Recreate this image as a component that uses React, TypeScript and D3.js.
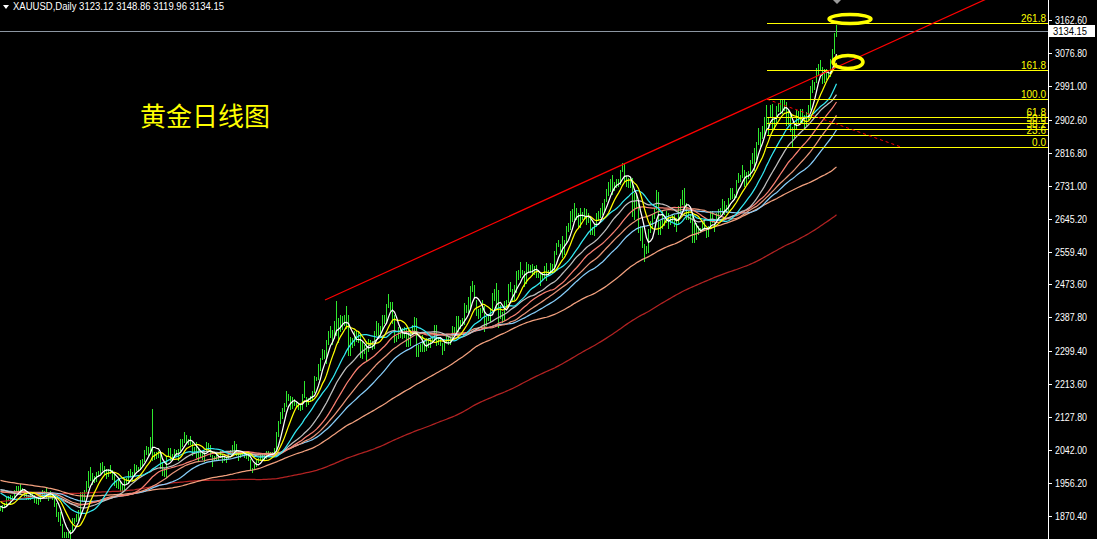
import React from "react";
import * as d3 from "d3";

const W = 1097;
const H = 539;
const PLOT_RIGHT = 1048;

const symbolTitle = "XAUUSD,Daily";
const lastOHLC = [3123.12, 3148.86, 3119.96, 3134.15];
const chartTitle = "黄金日线图";

// Daily lows (Aug 18 2023 -> Apr 1 2025)
const lows = [
  1885,
  1884, 1893, 1896, 1911, 1905,
  1914, 1918, 1935, 1934, 1931,
  1935, 1923, 1915, 1914, 1915,
  1916, 1908, 1905, 1901, 1910,
  1922, 1926, 1917, 1913, 1919,
  1914, 1897, 1870, 1857, 1846,
  1815, 1815, 1816, 1815, 1810,
  1832, 1853, 1858, 1859, 1867,
  1909, 1911, 1935, 1947, 1965,
  1953, 1960, 1962, 1976, 1982,
  1990, 1980, 1970, 1975, 1982,
  1967, 1952, 1946, 1944, 1935,
  1932, 1940, 1955, 1956, 1975,
  1965, 1976, 1989, 1988, 1992,
  2000, 2014, 2031, 2030, 2035,
  2017, 2018, 2021, 2024, 1995,
  1976, 1975, 1973, 2026, 2017,
  2016, 2024, 2028, 2017, 2043,
  2052, 2063, 2063, 2058,
  2057, 2030, 2035, 2024,
  2017, 2027, 2018, 2013, 2040,
  2046, 2028, 2001, 2016, 2020,
  2016, 2024, 2011, 2015, 2012,
  2022, 2031, 2029, 2037, 2030,
  2015, 2025, 2030, 2025, 2021,
  2016, 1990, 1984, 1993, 2000,
  2012, 2016, 2020, 2019, 2022,
  2027, 2026, 2025, 2034, 2040,
  2080, 2113, 2125, 2145, 2157,
  2172, 2150, 2152, 2159, 2155,
  2150, 2147, 2150, 2180, 2158,
  2163, 2171, 2175, 2193, 2225,
  2228, 2250, 2280, 2282, 2268,
  2318, 2336, 2319, 2333, 2343,
  2324, 2353, 2357, 2369, 2359,
  2291, 2291, 2311, 2316, 2326,
  2324, 2285, 2281, 2295, 2277,
  2301, 2310, 2305, 2309, 2341,
  2335, 2338, 2355, 2373, 2377,
  2415, 2408, 2374, 2325, 2326,
  2335, 2338, 2333, 2337, 2314,
  2314, 2316, 2349, 2351, 2287,
  2288, 2301, 2299, 2299, 2302,
  2310, 2311, 2328, 2328, 2316,
  2318, 2316, 2293, 2304, 2323,
  2318, 2319, 2330, 2350, 2353,
  2352, 2359, 2369, 2370, 2403,
  2400, 2410, 2456, 2438, 2393,
  2385, 2390, 2402, 2353, 2367,
  2380, 2379, 2404, 2432, 2410,
  2364, 2385, 2376, 2382, 2418,
  2428, 2457, 2433, 2436, 2454,
  2489, 2492, 2501, 2470, 2477,
  2507, 2505, 2497, 2500, 2493,
  2493, 2471, 2486, 2492, 2485,
  2498, 2503, 2505, 2509, 2554,
  2573, 2562, 2546, 2553, 2585,
  2613, 2617, 2640, 2644, 2643,
  2624, 2624, 2643, 2643, 2632,
  2636, 2604, 2605, 2603, 2627,
  2641, 2649, 2656, 2666, 2691,
  2707, 2718, 2708, 2719, 2728,
  2730, 2736, 2770, 2742, 2731,
  2728, 2727, 2652, 2643, 2674,
  2610, 2589, 2572, 2536, 2555,
  2558, 2609, 2620, 2646, 2669,
  2605, 2605, 2620, 2629, 2637,
  2622, 2631, 2640, 2625, 2613,
  2631, 2665, 2683, 2680, 2645,
  2644, 2637, 2583, 2584, 2592,
  2605, 2609, 2618, 2617,
  2597, 2599, 2624, 2636,
  2614, 2636, 2643, 2658, 2663,
  2656, 2662, 2667, 2695, 2700,
  2696, 2702, 2741, 2743, 2754,
  2730, 2735, 2750, 2756, 2790,
  2772, 2800, 2840, 2835, 2855,
  2861, 2880, 2864, 2913, 2876,
  2881, 2896, 2925, 2920, 2920,
  2928, 2890, 2892, 2873, 2833,
  2857, 2880, 2894, 2896, 2896,
  2880, 2890, 2904, 2930, 2976,
  2982, 3000, 3022, 3032, 2999,
  3000, 3010, 3012, 3017, 3058,
  3077, 3119.96,
];

// Daily highs
const highs = [
  1896,
  1899, 1903, 1920, 1923, 1925,
  1922, 1938, 1949, 1948, 1953,
  1943, 1940, 1930, 1925, 1930,
  1931, 1925, 1917, 1916, 1928,
  1937, 1936, 1947, 1931, 1935,
  1926, 1917, 1905, 1880, 1880,
  1850, 1830, 1830, 1830, 1835,
  1864, 1865, 1875, 1885, 1932,
  1932, 1937, 1962, 1987, 1997,
  1982, 1975, 1984, 1988, 2009,
  2010, 2000, 1993, 1992, 2003,
  1990, 1980, 1962, 1966, 1962,
  1950, 1970, 1970, 1988, 1994,
  1984, 2007, 2003, 1997, 2017,
  2018, 2042, 2052, 2050, 2075,
  2148, 2038, 2037, 2040, 2035,
  2008, 1995, 2028, 2048, 2048,
  2033, 2045, 2043, 2046, 2070,
  2070, 2088, 2082, 2070,
  2078, 2065, 2050, 2064,
  2047, 2038, 2038, 2040, 2062,
  2060, 2056, 2030, 2026, 2035,
  2030, 2040, 2032, 2025, 2025,
  2035, 2043, 2055, 2065, 2058,
  2040, 2037, 2039, 2040, 2034,
  2030, 2020, 1996, 2005, 2016,
  2022, 2031, 2034, 2035, 2041,
  2039, 2038, 2036, 2048, 2088,
  2119, 2141, 2153, 2165, 2195,
  2189, 2184, 2180, 2175, 2167,
  2164, 2162, 2189, 2222, 2180,
  2178, 2184, 2196, 2236, 2233,
  2266, 2281, 2305, 2304, 2330,
  2353, 2365, 2355, 2378, 2431,
  2385, 2395, 2392, 2394, 2417,
  2395, 2338, 2335, 2352, 2353,
  2352, 2345, 2326, 2317, 2326,
  2332, 2330, 2326, 2353, 2378,
  2372, 2366, 2395, 2395, 2422,
  2450, 2428, 2427, 2393, 2340,
  2364, 2364, 2360, 2364, 2360,
  2355, 2354, 2369, 2388, 2387,
  2315, 2319, 2342, 2330, 2335,
  2334, 2332, 2340, 2368, 2368,
  2336, 2334, 2321, 2331, 2339,
  2338, 2336, 2365, 2363, 2392,
  2392, 2381, 2386, 2425, 2420,
  2440, 2469, 2483, 2473, 2434,
  2409, 2412, 2432, 2418, 2390,
  2393, 2411, 2451, 2462, 2477,
  2460, 2421, 2402, 2431, 2434,
  2475, 2480, 2463, 2471, 2509,
  2510, 2531, 2510, 2509, 2531,
  2526, 2525, 2526, 2523, 2525,
  2504, 2501, 2504, 2523, 2529,
  2510, 2529, 2527, 2560, 2581,
  2590, 2580, 2600, 2590, 2625,
  2634, 2664, 2670, 2685, 2674,
  2661, 2673, 2663, 2672, 2670,
  2660, 2645, 2624, 2631, 2661,
  2666, 2673, 2686, 2696, 2722,
  2740, 2749, 2758, 2741, 2749,
  2748, 2772, 2790, 2787, 2757,
  2752, 2750, 2750, 2711, 2710,
  2685, 2627, 2626, 2580, 2573,
  2617, 2639, 2655, 2674, 2721,
  2715, 2640, 2664, 2644, 2665,
  2659, 2650, 2658, 2654, 2646,
  2677, 2695, 2721, 2726, 2686,
  2665, 2657, 2652, 2633, 2633,
  2625, 2621, 2638, 2643,
  2620, 2626, 2664, 2665,
  2642, 2660, 2670, 2672, 2697,
  2690, 2680, 2698, 2725, 2725,
  2710, 2746, 2763, 2760, 2786,
  2773, 2766, 2768, 2798, 2817,
  2830, 2845, 2882, 2870, 2886,
  2911, 2942, 2907, 2940, 2943,
  2907, 2938, 2947, 2955, 2954,
  2956, 2950, 2925, 2917, 2884,
  2895, 2928, 2926, 2930, 2930,
  2915, 2922, 2940, 2990, 3005,
  3002, 3038, 3048, 3058, 3040,
  3035, 3036, 3030, 3060, 3087,
  3128, 3148.86,
];

// Closes before the visible window (needed for the moving averages)
const priorClose = [
  1630, 1680, 1675, 1712, 1706, 1755, 1770, 1772, 1778, 1774, 1761, 1751, 1738, 1740, 1750, 1755, 1754, 1741, 1750, 1768,
  1803, 1797, 1768, 1770, 1787, 1789, 1797, 1781, 1810, 1807, 1777, 1793, 1788, 1817, 1813, 1792, 1798, 1814, 1804, 1815, 1824,
  1828, 1840, 1855, 1833, 1866, 1872, 1877, 1876, 1897, 1920, 1916, 1908, 1905, 1932, 1926, 1931, 1937, 1946, 1929, 1928, 1923, 1928,
  1950, 1912, 1865, 1868, 1873, 1875, 1861, 1865, 1853, 1855, 1835, 1836, 1842, 1841, 1835, 1825, 1822, 1810, 1817, 1827,
  1836, 1836, 1855, 1847, 1813, 1815, 1831, 1867, 1913, 1903, 1918, 1920, 1988, 1980, 1940, 1970, 1993, 1977, 1956, 1973, 1964, 1980, 1969,
  1984, 2020, 2021, 2008, 2007, 1990, 2003, 2015, 2040, 2004, 1995, 2005, 1994, 2005, 1983, 1989, 1998, 1996, 1989, 1990,
  1983, 2016, 2039, 2050, 2017, 2021, 2034, 2030, 2015, 2011, 2017, 1989, 1981, 1957, 1978, 1971, 1975, 1957, 1942, 1946, 1943, 1959, 1962,
  1978, 1948, 1961, 1963, 1940, 1965, 1961, 1957, 1943, 1943, 1958, 1958, 1951, 1936, 1932, 1913, 1921, 1923, 1913, 1907, 1908, 1919,
  1921, 1926, 1915, 1911, 1925, 1925, 1932, 1957, 1961, 1955, 1955, 1979, 1977, 1969, 1962, 1955, 1965, 1972, 1946, 1959, 1965,
  1944, 1935, 1934, 1943, 1937, 1925, 1915, 1913, 1914, 1907, 1902, 1892, 1889,
];

const maPeriods = [5, 10, 20, 30, 40, 50, 60, 100, 200];
const maColors = ["#ffffff", "#ffff00", "#33e8f2", "#c0c0c0", "#fa8072", "#e9967a", "#87cefa", "#f2a07e", "#b22222"];

const priceTicks = [3162.6, 3076.8, 2991.0, 2902.6, 2816.8, 2731.0, 2645.2, 2559.4, 2473.6, 2387.8, 2299.4, 2213.6, 2127.8, 2042.0, 1956.2, 1870.4];

const fibLevels = [0, 23.6, 38.2, 50, 61.8, 100, 161.8, 261.8];
const fibPrices = [2832.7, 2956.2]; // 0% and 100%
const fibBars = [383.5, 450]; // anchor bars of the retracement

const trendAnchors = [
  [162.5, 2433],
  [418, 3039],
];

const highlightMarks = [
  { bar: 425, price: 3165, rx: 21, ry: 4.5 },
  { bar: 424, price: 3053, rx: 15, ry: 6.5 },
];

export default function App() {
  const n = highs.length;
  const x = d3.scaleLinear().domain([0, n - 1]).range([0, (n - 1) * 2]);
  const y = d3.scaleLinear().domain([1870.4, 3162.6]).range([516, 20]);

  const medians = highs.map((h, i) => (h + lows[i]) / 2);
  const full = priorClose.concat(medians);
  const off = priorClose.length;
  const mas = maPeriods.map((p) =>
    medians.map((_, i) => d3.mean(full.slice(Math.max(0, off + i - p + 1), off + i + 1)) as number)
  );
  const line = d3
    .line<number>()
    .x((_, i) => x(i) + 0.5)
    .y((v) => y(v));

  const lastPrice = lastOHLC[3];
  const yLast = Math.round(y(lastPrice)) + 0.5;

  // trend line
  const [[b0, p0], [b1, p1]] = trendAnchors;
  const slope = (p1 - p0) / (b1 - b0);
  const bEnd = 600;
  const pEnd = p0 + slope * (bEnd - b0);

  const fibRange = fibPrices[1] - fibPrices[0];
  const fibX0 = x(fibBars[0]);

  return (
    <div>
      <style>{`body{margin:0;background:#000;}`}</style>
      <svg width={W} height={H} style={{ display: "block", background: "#000" }}>
        <defs>
          <clipPath id="plot">
            <rect x={0} y={0} width={PLOT_RIGHT} height={H} />
          </clipPath>
        </defs>
        <rect x={0} y={0} width={W} height={H} fill="#000" />

        <g clipPath="url(#plot)">
          {/* current price line */}
          <line x1={0} x2={PLOT_RIGHT} y1={yLast} y2={yLast} stroke="#8c96a2" strokeWidth={1} />

          {/* bars */}
          <g stroke="#2ee82e" strokeWidth={1} shapeRendering="crispEdges">
            {highs.map((h, i) => (
              <line key={i} x1={x(i) + 0.5} x2={x(i) + 0.5} y1={Math.round(y(h))} y2={Math.round(y(lows[i])) + 1} />
            ))}
          </g>

          {/* moving averages: slow first, fast on top */}
          {mas
            .map((m, k) => ({ m, k }))
            .reverse()
            .map(({ m, k }) => (
              <path key={k} d={line(m) || ""} fill="none" stroke={maColors[k]} strokeWidth={1.25} />
            ))}

          {/* fibonacci levels */}
          {fibLevels.map((lv) => {
            const py = Math.round(y(fibPrices[0] + (fibRange * lv) / 100)) + 0.5;
            return (
              <g key={lv}>
                <line x1={fibX0} x2={PLOT_RIGHT} y1={py} y2={py} stroke="#ffff00" strokeWidth={1} />
                <text
                  x={1046}
                  y={py - 2}
                  textAnchor="end"
                  fill="#ffff00"
                  fontSize={10}
                  fontFamily="'Liberation Sans', Arial, sans-serif"
                >
                  {lv.toFixed(1)}
                </text>
              </g>
            );
          })}
          <line
            x1={fibX0}
            y1={y(fibPrices[1])}
            x2={x(fibBars[1])}
            y2={y(fibPrices[0])}
            stroke="#ff0000"
            strokeWidth={1}
            strokeDasharray="3,3"
          />

          {/* trend line */}
          <line x1={x(b0)} y1={y(p0)} x2={x(bEnd)} y2={y(pEnd)} stroke="#ff0000" strokeWidth={1.2} />

          {/* hand-drawn highlights */}
          {highlightMarks.map((mk, k) => (
            <ellipse
              key={k}
              cx={x(mk.bar)}
              cy={y(mk.price)}
              rx={mk.rx}
              ry={mk.ry}
              fill="none"
              stroke="#ffff00"
              strokeWidth={3.5}
            />
          ))}
        </g>

        {/* chart shift marker */}
        <path d={`M${x(n - 1) - 3},0 L${x(n - 1) + 5},0 L${x(n - 1) + 1},4 Z`} fill="#9a9a9a" />

        {/* chart title */}
        <text x={140} y={126} fill="#ffff00" fontSize={26} fontFamily="'Noto Sans CJK SC', sans-serif">
          {chartTitle}
        </text>

        {/* header */}
        <path d="M3,5 L9,5 L6,9 Z" fill="#ffffff" />
        <text
          x={13}
          y={10}
          fill="#ffffff"
          fontSize={10}
          fontFamily="'Liberation Sans', Arial, sans-serif"
          textLength={211}
          lengthAdjust="spacingAndGlyphs"
        >
          {`${symbolTitle}  ${lastOHLC.map((v) => v.toFixed(2)).join(" ")}`}
        </text>

        {/* price axis */}
        <line x1={PLOT_RIGHT + 0.5} x2={PLOT_RIGHT + 0.5} y1={0} y2={H} stroke="#ffffff" strokeWidth={1} />
        {priceTicks.map((t) => {
          const ty = Math.round(y(t)) + 0.5;
          return (
            <g key={t}>
              <line x1={PLOT_RIGHT} x2={PLOT_RIGHT + 4} y1={ty} y2={ty} stroke="#ffffff" />
              <text
                x={1055}
                y={ty + 3.5}
                fill="#ffffff"
                fontSize={10}
                fontFamily="'Liberation Sans', Arial, sans-serif"
                textLength={32}
                lengthAdjust="spacingAndGlyphs"
              >
                {t.toFixed(2)}
              </text>
            </g>
          );
        })}
        <rect x={PLOT_RIGHT + 1} y={yLast - 6.5} width={46} height={12} fill="#ffffff" />
        <text
          x={1053}
          y={yLast + 3.5}
          fill="#000000"
          fontSize={10}
          fontFamily="'Liberation Sans', Arial, sans-serif"
          textLength={34}
          lengthAdjust="spacingAndGlyphs"
        >
          {lastPrice.toFixed(2)}
        </text>
      </svg>
    </div>
  );
}
